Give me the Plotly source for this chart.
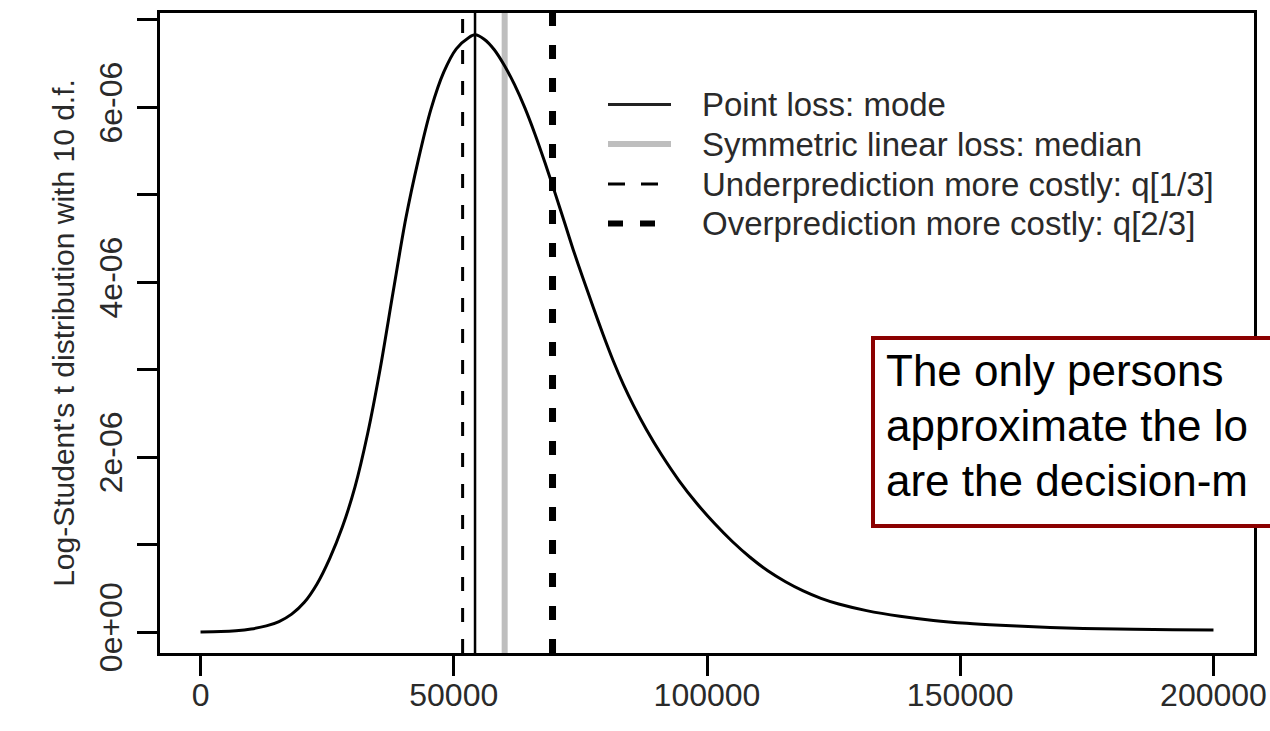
import plotly.graph_objects as go

# ---- data ----
# curve: x in dollars, density values (in units of 1e-06)
curve_x = [0, 4000, 7000, 10000, 13000, 15500, 18000, 20500, 23000, 25500,
           28000, 30500, 33000, 35500, 38000, 40500, 43000, 45500, 48000, 50500,
           53000, 54200, 56000, 58000, 60000, 62000, 64000, 66000, 68000, 70000,
           72000, 73600, 75500, 77500, 79500, 81500, 83500, 85500, 88000, 91000,
           94500, 98000, 101500, 105000, 108500, 112000, 115500, 119000, 122500, 126000,
           131500, 138100, 144700, 151300, 157900, 164500, 171000, 177600, 184200, 192000,
           200000]
curve_y_e6 = [0.0, 0.005, 0.015, 0.035, 0.07, 0.12, 0.205, 0.34, 0.55, 0.84,
              1.20, 1.66, 2.27, 3.02, 3.88, 4.72, 5.40, 5.98, 6.40, 6.67,
              6.80, 6.83, 6.78, 6.66, 6.48, 6.26, 6.00, 5.70, 5.37, 5.02,
              4.66, 4.37, 4.05, 3.72, 3.40, 3.10, 2.83, 2.59, 2.32, 2.03,
              1.73, 1.47, 1.24, 1.035, 0.855, 0.70, 0.575, 0.47, 0.385, 0.32,
              0.245, 0.180, 0.133, 0.100, 0.077, 0.059, 0.046, 0.037, 0.031, 0.026,
              0.022]
curve_y = [v * 1e-6 for v in curve_y_e6]

# decision points (vertical lines)
line_names = ["Point loss: mode",
              "Symmetric linear loss: median",
              "Underprediction more costly: q[1/3]",
              "Overprediction more costly: q[2/3]"]
line_x = [54200, 60050, 51750, 69500]

x_tickvals = [0, 50000, 100000, 150000, 200000]
x_ticktext = ["0", "50000", "100000", "150000", "200000"]
y_tickvals = [0, 1e-6, 2e-6, 3e-6, 4e-6, 5e-6, 6e-6, 7e-6]
y_ticktext = ["0e+00", "", "2e-06", "", "4e-06", "", "6e-06", ""]

y_title = "Log-Student's t distribution with 10 d.f."
note_lines = ["The only persons", "approximate the lo", "are the decision-m"]

# ---- styling ----
FONT = "Liberation Sans, Arial, Helvetica, sans-serif"
TXT = "#2a2a2a"
X_RANGE = [-8000, 208000]
Y_RANGE = [-0.24e-6, 7.08e-6]
styles = [
    dict(color="black", width=2.5, dash="solid"),
    dict(color="#BEBEBE", width=6, dash="solid"),
    dict(color="black", width=3, dash="14px,17px"),
    dict(color="black", width=7, dash="14px,19px"),
]
legend_styles = [
    dict(color="#222222", width=3, dash="solid"),
    dict(color="#BEBEBE", width=6, dash="solid"),
    dict(color="black", width=3, dash="17px,16px"),
    dict(color="black", width=6, dash="15px,17px"),
]

fig = go.Figure()

order_before = [1]
order_after = [0, 2, 3]

for i in order_before:
    fig.add_trace(go.Scatter(x=[line_x[i], line_x[i]], y=Y_RANGE, mode="lines",
                             line=styles[i], name=line_names[i], showlegend=False,
                             hoverinfo="skip"))

fig.add_trace(go.Scatter(x=curve_x, y=curve_y, mode="lines",
                         line=dict(color="black", width=3, shape="spline", smoothing=0.8),
                         showlegend=False, name="density"))

for i in order_after:
    fig.add_trace(go.Scatter(x=[line_x[i], line_x[i]], y=Y_RANGE, mode="lines",
                             line=styles[i], name=line_names[i], showlegend=False,
                             hoverinfo="skip"))

# ---- manual R-style legend (no box) ----
L, R_, T, B = 160, 16, 13, 78
W, H = 1270, 731
pw, ph = W - L - R_, H - T - B

def px_x(p):
    return (p - L) / pw

def px_y(p):
    return (H - B - p) / ph

shapes = []
annotations = []
row_y = [104.5, 144, 184, 223.5]
for k in range(4):
    yy = px_y(row_y[k])
    shapes.append(dict(type="line", xref="paper", yref="paper",
                       x0=px_x(608), x1=px_x(671), y0=yy, y1=yy,
                       line=legend_styles[k], layer="above"))
    annotations.append(dict(xref="paper", yref="paper", x=px_x(700), y=yy,
                            xanchor="left", yanchor="middle", showarrow=False,
                            text=line_names[k],
                            font=dict(family=FONT, size=33, color=TXT)))

# ---- framed note (runs off the right edge like the reference) ----
shapes.append(dict(type="rect", xref="paper", yref="paper",
                   x0=px_x(873), x1=px_x(1300), y0=px_y(526), y1=px_y(338),
                   line=dict(color="#8B0000", width=4), fillcolor="white",
                   layer="above"))
note_y = [370, 425, 480]
for k, t in enumerate(note_lines):
    annotations.append(dict(xref="paper", yref="paper", x=px_x(884), y=px_y(note_y[k]),
                            xanchor="left", yanchor="middle", showarrow=False,
                            text=t, font=dict(family=FONT, size=44, color="black")))

fig.update_layout(
    width=W, height=H, autosize=False,
    margin=dict(l=L, r=R_, t=T, b=B, pad=0),
    paper_bgcolor="white", plot_bgcolor="white",
    font=dict(family=FONT, color=TXT),
    showlegend=False,
    shapes=shapes, annotations=annotations,
    xaxis=dict(range=X_RANGE, showgrid=False, zeroline=False, automargin=False,
               showline=True, mirror=True, linecolor="black", linewidth=2.5,
               ticks="outside", ticklen=20, tickwidth=2.5, tickcolor="black",
               tickvals=x_tickvals, ticktext=x_ticktext,
               tickfont=dict(family=FONT, size=32, color=TXT),
               ticklabelstandoff=-8),
    yaxis=dict(range=Y_RANGE, showgrid=False, zeroline=False, automargin=False,
               showline=True, mirror=True, linecolor="black", linewidth=2.5,
               ticks="outside", ticklen=20, tickwidth=2.5, tickcolor="black",
               tickvals=y_tickvals, ticktext=y_ticktext, tickangle=-90,
               tickfont=dict(family=FONT, size=32, color=TXT),
               ticklabelstandoff=2,
               title=dict(text=y_title, standoff=10,
                          font=dict(family=FONT, size=30, color=TXT))),
)

fig.write_html("out.html")
